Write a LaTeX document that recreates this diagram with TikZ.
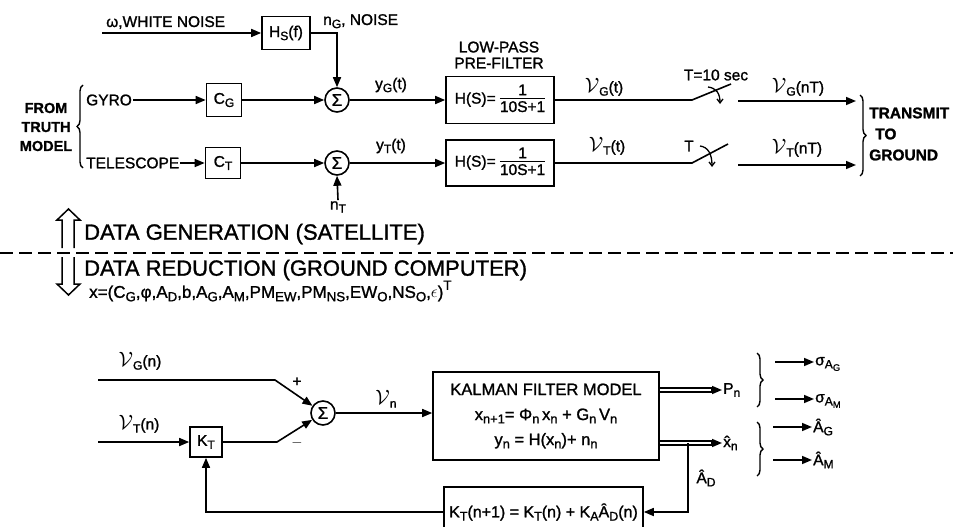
\documentclass[tikz,border=0pt]{standalone}
\usepackage{graphicx}
\usepackage{fontspec}
\setmainfont{Liberation Sans}[FakeBold=1.3]
\usetikzlibrary{arrows.meta,decorations.pathreplacing,calc}
\newcommand\sbs[1]{\raisebox{-0.38ex}{\scalebox{0.78}{#1}}}
\newcommand\sps[1]{\raisebox{0.9ex}{\scalebox{0.78}{#1}}}
\newcommand\spV{{\fontsize{21}{21}\selectfont$\mathcal{V}$}}
\newcommand\frc{\begin{tabular}{@{}c@{}}1\\[-3pt]\hline\rule{0pt}{14pt}10S+1\end{tabular}}
\tikzset{
  lbl/.style={font=\fontsize{15.5}{18}\selectfont, inner sep=1pt},
  lblb/.style={font=\bfseries\fontsize{14.5}{19}\selectfont, inner sep=1pt},
  big/.style={font=\fontsize{22}{24}\selectfont, inner sep=1pt},
  blk/.style={draw, line width=1.6pt, font=\fontsize{15.5}{18}\selectfont, inner sep=2pt},
  sumc/.style={draw, circle, line width=1.6pt, minimum size=24pt, inner sep=0pt, font=\fontsize{17}{17}\selectfont},
  arr/.style={line width=1.6pt, -{Triangle[length=10pt,width=8pt]}},
  ln/.style={line width=1.6pt},
  sarr/.style={line width=1.3pt, -{Straight Barb[length=4pt,width=6pt]}},
  brc/.style={line width=1.4pt, decorate, decoration={brace, amplitude=6pt}},
  dbl/.style={line width=1.3pt, double, double distance=2.5pt},
}
\begin{document}
\begin{tikzpicture}[x=1pt,y=-1pt]
\useasboundingbox (0,0) rectangle (953,527);
\clip (0,0) rectangle (953,527);
\fill[white] (0,0) rectangle (953,527);

% ---------- top: data generation ----------
\node[blk, minimum width=48pt, minimum height=33pt] (Hs) at (286,33) {H\sbs{S}(f)};
\coordinate (w0) at (102,33);
\node[lbl, anchor=base west] (wn) at (105,27) {ω,WHITE NOISE};
\draw[arr] (w0) -- (Hs.west);
\node[lbl, anchor=base west] (nG) at (322,25) {n\sbs{G}, NOISE};

\node[sumc] (sG) at (337,100) {Σ};
\draw[arr] (Hs.east) -| (sG.north);

\node[lblb, align=center] (ftm) at (46,127) {FROM\\TRUTH\\MODEL};
\coordinate (lb1) at (83,168);
\coordinate (lb2) at (83,85);
\draw[brc] (lb1) -- (lb2);

\node[lbl, anchor=west] (gyro) at (85,100) {GYRO};
\node[blk, minimum width=35pt, minimum height=33pt] (CG) at (224,100) {C\sbs{G}};
\draw[arr] (gyro.east) -- (CG.west);
\draw[arr] (CG.east) -- (sG.west);
\node[lbl] (yG) at (391,85) {y\sbs{G}(t)};

\node[blk, minimum width=108pt, minimum height=47pt] (F1) at (500,100) {H(S)= \frc};
\draw[arr] (sG.east) -- (F1.west);
\node[lbl, align=center, font=\fontsize{15.5}{16}\selectfont] (lp) at (499,55) {LOW-PASS\\PRE-FILTER};

\coordinate (p1) at (692,100);
\coordinate (b1) at (731,84);
\draw[ln] (F1.east) -- (p1) -- (b1);
\coordinate (o1) at (738,101);
\coordinate (e1) at (856,101);
\draw[arr] (o1) -- (e1);
\draw[sarr] (708,87) .. controls (716,88) and (720,93) .. (720,104);
\node[lbl] (vGt) at (604,87) {\spV\sbs{G}(t)};
\node[lbl] (Tsec) at (716,75) {T=10 sec};
\node[lbl] (vGnT) at (798,87) {\spV\sbs{G}(nT)};

\node[lbl, anchor=west] (tel) at (85,163) {TELESCOPE};
\node[blk, minimum width=35pt, minimum height=31pt] (CT) at (223,163) {C\sbs{T}};
\draw[arr] (tel.east) -- (CT.west);
\node[sumc] (sT) at (337,163) {Σ};
\draw[arr] (CT.east) -- (sT.west);
\node[lbl] (nT) at (338,207) {n\sbs{T}};
\draw[arr] (nT.north) -- (sT.south);
\node[lbl] (yT) at (391,146) {y\sbs{T}(t)};

\node[blk, minimum width=108pt, minimum height=46pt] (F2) at (500,163) {H(S)= \frc};
\draw[arr] (sT.east) -- (F2.west);

\coordinate (p2) at (692,163);
\coordinate (b2) at (728,144);
\draw[ln] (F2.east) -- (p2) -- (b2);
\coordinate (o2) at (738,165);
\coordinate (e2) at (856,165);
\draw[arr] (o2) -- (e2);
\draw[sarr] (700,146) .. controls (708,147) and (712,154) .. (712,167);
\node[lbl] (vTt) at (607,146) {\spV\sbs{T}(t)};
\node[lbl] (Tl) at (689,146) {T};
\node[lbl] (vTnT) at (797,148) {\spV\sbs{T}(nT)};

\coordinate (rb1) at (860,95);
\coordinate (rb2) at (860,176);
\draw[brc] (rb1) -- (rb2);
\node[lblb, anchor=west, align=left, font=\bfseries\fontsize{15.5}{21}\selectfont] (ttg) at (868,134) {TRANSMIT\\\hspace{6pt}TO\\GROUND};

% ---------- divider ----------
\draw[line width=1.5pt] (62,248) -- (62,220) -- (57,220) -- (68.5,209) -- (80,220) -- (74,220) -- (74,248);
\draw[line width=1.5pt] (62,257) -- (62,284) -- (57,284) -- (68.5,295) -- (80,284) -- (74,284) -- (74,257);
\coordinate (d0) at (0,253);
\coordinate (d1) at (953,253);
\draw[line width=2pt, dash pattern=on 13pt off 6pt] (d0) -- (d1);
\node[big, anchor=west] (dg) at (83,234) {DATA GENERATION (SATELLITE)};
\node[big, anchor=west] (dr) at (83,270) {DATA REDUCTION (GROUND COMPUTER)};
\node[lbl, anchor=west, font=\fontsize{17}{18}\selectfont] (xf) at (88,291) {x=(C\sbs{G},φ,A\sbs{D},b,A\sbs{G},A\sbs{M},PM\sbs{EW},PM\sbs{NS},EW\sbs{O},NS\sbs{O},$\epsilon$)\sps{T}};

% ---------- bottom: data reduction ----------
\node[lbl] (VGn) at (140,361) {\spV\sbs{G}(n)};
\coordinate (g0) at (98,380);
\coordinate (g1) at (275,380);
\node[sumc] (sK) at (323,413) {Σ};
\draw[arr] (g0) -- (g1) -- (sK);
\node[lbl] (plus) at (297,382) {+};
\node[lbl] (minus) at (297,443) {$-$};

\node[lbl] (VTn) at (139,424) {\spV\sbs{T}(n)};
\coordinate (t0) at (98,442);
\node[blk, minimum width=32pt, minimum height=30pt] (KT) at (206,442) {K\sbs{T}};
\draw[arr] (t0) -- (KT.west);
\coordinate (t1) at (277,442);
\draw[arr] (KT.east) -- (t1) -- (sK);

\node[lbl] (Vn) at (386,399) {\spV\sbs{n}};
\node[blk, minimum width=226pt, minimum height=88pt, align=center, font=\fontsize{16.5}{25}\selectfont] (KM) at (546,416)
  {KALMAN FILTER MODEL\\x\sbs{n+1}= Φ\sbs{n}\,x\sbs{n} + G\sbs{n}\,V\sbs{n}\\y\sbs{n} = H(x\sbs{n})+ n\sbs{n}};
\draw[arr] (sK.east) -- (sK.east -| KM.west);

\node[lbl, anchor=west] (Pn) at (722,390) {P\sbs{n}};
\node[lbl, anchor=west] (xh) at (722,443) {x̂\sbs{n}};
\draw[dbl] (KM.east |- Pn.west) -- ($(Pn.west)+(-7,0)$);
\draw[arr] ($(Pn.west)+(-11,0)$) -- (Pn.west);
\draw[dbl] (KM.east |- xh.west) -- ($(xh.west)+(-7,0)$);
\draw[arr] ($(xh.west)+(-11,0)$) -- (xh.west);

\node[blk, minimum width=199pt, minimum height=50pt, font=\fontsize{16}{18}\selectfont] (KB) at (543.5,512) {K\sbs{T}(n+1) = K\sbs{T}(n) + K\sbs{A}Â\sbs{D}(n)};
\coordinate (ad) at (688,443);
\draw[arr] (ad) |- (KB.east);
\node[lbl] (ADl) at (706,478) {Â\sbs{D}};
\draw[arr] (KB.west) -| (KT.south);

\coordinate (rc1) at (757,353);
\coordinate (rc2) at (757,407);
\draw[brc] (rc1) -- (rc2);
\coordinate (rc3) at (757,422);
\coordinate (rc4) at (757,476);
\draw[brc] (rc3) -- (rc4);

\node[lbl, anchor=west] (sAG) at (814,364) {σ\sbs{A\sbs{G}}};
\node[lbl, anchor=west] (sAM) at (814,401) {σ\sbs{A\sbs{M}}};
\node[lbl, anchor=west] (hAG) at (812,427) {Â\sbs{G}};
\node[lbl, anchor=west] (hAM) at (812,460) {Â\sbs{M}};
\coordinate (q1) at (775,362);
\coordinate (q2) at (775,399);
\coordinate (q3) at (773,427);
\coordinate (q4) at (773,460);
\draw[arr] (q1) -- (q1 -| sAG.west);
\draw[arr] (q2) -- (q2 -| sAM.west);
\draw[arr] (q3) -- (q3 -| hAG.west);
\draw[arr] (q4) -- (q4 -| hAM.west);
\end{tikzpicture}
\end{document}
